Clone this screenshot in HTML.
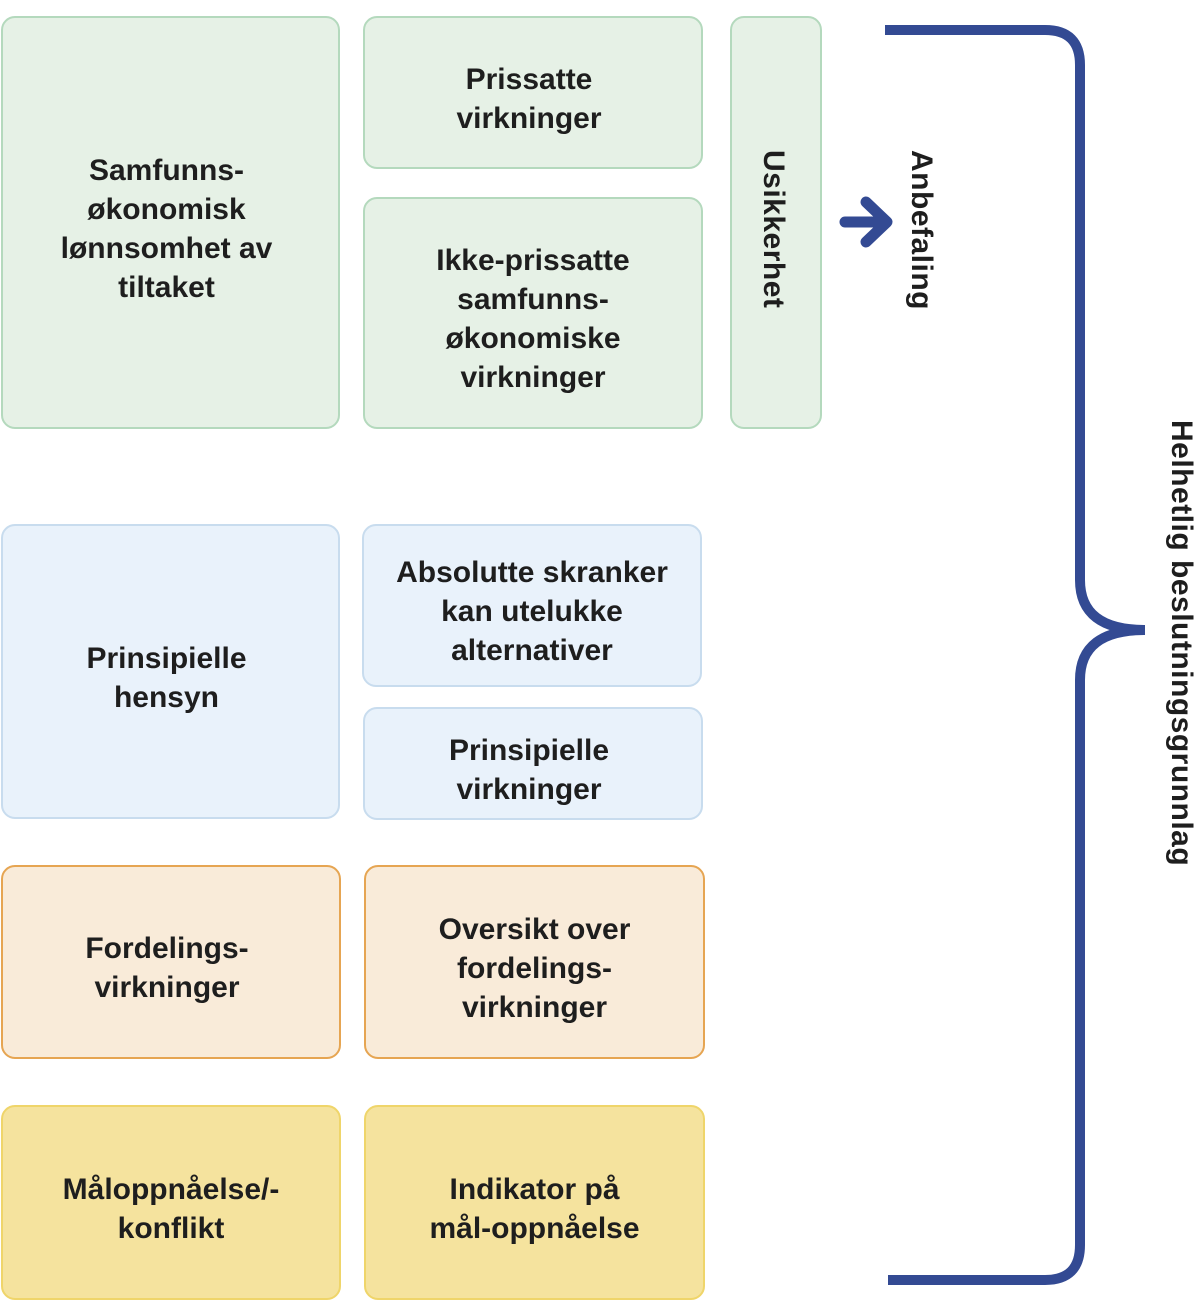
<!DOCTYPE html>
<html><head><meta charset="utf-8"><style>
body{margin:0;width:1200px;height:1316px;background:#fff;position:relative;font-family:"Liberation Sans",sans-serif;overflow:hidden}
.b{position:absolute;box-sizing:border-box;border:2px solid;border-radius:14px;display:flex;align-items:center;justify-content:center;text-align:center;font-weight:bold;font-size:30px;line-height:39px;color:#1e1e1e;padding-top:12px}
.g{background:#e6f1e6;border-color:#b4d9bd}
.bl{background:#e9f2fb;border-color:#c8dcee}
.o{background:#f9ebd9;border-color:#e6a552}
.y{background:#f5e39e;border-color:#efd56a}
.v{position:absolute;writing-mode:vertical-rl;font-weight:bold;font-size:30px;letter-spacing:0.5px;color:#1e1e1e;white-space:nowrap}
</style></head><body>
<div class="b g" style="left:1px;top:16px;width:339px;height:413px;padding-right:8px">Samfunns-<br>økonomisk<br>lønnsomhet av<br>tiltaket</div>
<div class="b g" style="left:363px;top:16px;width:340px;height:153px;padding-right:8px">Prissatte<br>virkninger</div>
<div class="b g" style="left:363px;top:197px;width:340px;height:232px">Ikke-prissatte<br>samfunns-<br>økonomiske<br>virkninger</div>
<div class="b g" style="left:730px;top:16px;width:92px;height:413px"></div>
<div class="v" style="left:756px;top:150px">Usikkerhet</div>
<div class="v" style="left:904px;top:150px">Anbefaling</div>
<div class="b bl" style="left:1px;top:524px;width:339px;height:295px;padding-right:8px">Prinsipielle<br>hensyn</div>
<div class="b bl" style="left:362px;top:524px;width:340px;height:163px">Absolutte skranker<br>kan utelukke<br>alternativer</div>
<div class="b bl" style="left:363px;top:707px;width:340px;height:113px;padding-right:8px">Prinsipielle<br>virkninger</div>
<div class="b o" style="left:1px;top:865px;width:340px;height:194px;padding-right:8px">Fordelings-<br>virkninger</div>
<div class="b o" style="left:364px;top:865px;width:341px;height:194px">Oversikt over<br>fordelings-<br>virkninger</div>
<div class="b y" style="left:1px;top:1105px;width:340px;height:195px">Måloppnåelse/-<br>konflikt</div>
<div class="b y" style="left:364px;top:1105px;width:341px;height:195px">Indikator på<br>mål-oppnåelse</div>
<div class="v" style="left:1164px;top:420px">Helhetlig beslutningsgrunnlag</div>
<svg width="1200" height="1316" style="position:absolute;left:0;top:0">
<path d="M885 30 H1045 Q1080 30 1080 65 V580 Q1080 630 1145 630 Q1080 630 1080 680 V1245 Q1080 1280 1045 1280 H888" fill="none" stroke="#334a93" stroke-width="10"/>
<path d="M845 222 H885 M866 202 L887 222 L866 242" fill="none" stroke="#334a93" stroke-width="11" stroke-linecap="round" stroke-linejoin="round"/>
</svg>
</body></html>
